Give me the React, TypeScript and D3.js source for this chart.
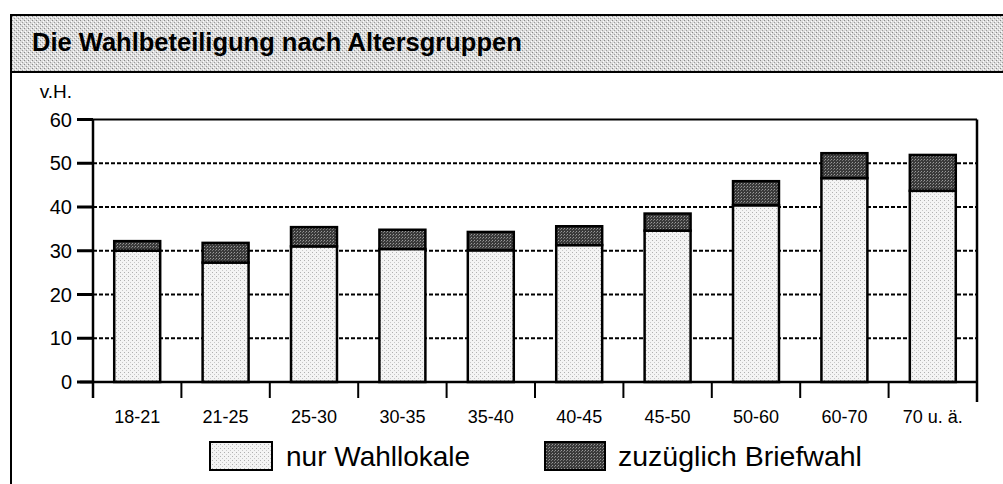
import { scaleBand, scaleLinear } from "d3";

const categories = ["18-21", "21-25", "25-30", "30-35", "35-40", "40-45", "45-50", "50-60", "60-70", "70 u. ä."];
// nur Wahllokale
const wahllokale = [30, 27.3, 31, 30.4, 30.1, 31.3, 34.6, 40.4, 46.6, 43.7];
// zuzüglich Briefwahl (Aufschlag)
const briefwahl = [2.2, 4.5, 4.4, 4.4, 4.2, 4.3, 3.9, 5.5, 5.7, 8.2];
const yTicks = [0, 10, 20, 30, 40, 50, 60];

const FONT = "'Liberation Sans', Arial, Helvetica, sans-serif";

export default function App() {
  const width = 1003;
  const height = 484;
  const left = 93;
  const right = 977;
  const top = 119.5;
  const bottom = 382;

  const x = scaleBand<string>().domain(categories).range([left, right]).padding(0);
  const y = scaleLinear().domain([0, 60]).range([bottom, top]);
  const barW = x.bandwidth() * 0.52;
  const bounds = [...categories.map((c) => x(c)!), right];

  return (
    <svg width={width} height={height} style={{ position: "absolute", left: 0, top: 0, background: "#fff" }}>
      <defs>
        <pattern id="band" width="4" height="4" patternUnits="userSpaceOnUse">
          <rect width="4" height="4" fill="#dcdcdc" />
          <rect x="0" y="0" width="1" height="1" fill="#888" />
          <rect x="2" y="2" width="1" height="1" fill="#9c9c9c" />
          <rect x="3" y="1" width="1" height="1" fill="#fff" />
          <rect x="1" y="3" width="1" height="1" fill="#fff" />
        </pattern>
        <pattern id="light" width="4" height="4" patternUnits="userSpaceOnUse">
          <rect width="4" height="4" fill="#f4f4f4" />
          <rect x="0" y="0" width="1" height="1" fill="#b0b0b0" />
          <rect x="2" y="2" width="1" height="1" fill="#c8c8c8" />
        </pattern>
        <pattern id="dark" width="3" height="3" patternUnits="userSpaceOnUse">
          <rect width="3" height="3" fill="#3a3a3a" />
          <rect x="0" y="0" width="1" height="1" fill="#9a9a9a" />
          <rect x="2" y="1" width="1" height="1" fill="#777" />
        </pattern>
      </defs>

      {/* Rahmen + Titelband */}
      <rect x={11} y={15} width={width - 11} height={57} fill="url(#band)" />
      <line x1={11} x2={width} y1={15} y2={15} stroke="#000" strokeWidth={2} />
      <line x1={11} x2={width} y1={72} y2={72} stroke="#000" strokeWidth={2} />
      <line x1={11} x2={11} y1={14} y2={height} stroke="#000" strokeWidth={2} />
      <text x={32} y={51} fontFamily={FONT} fontWeight="bold" fontSize={25.5} fill="#000">
        Die Wahlbeteiligung nach Altersgruppen
      </text>

      <text x={72} y={98} textAnchor="end" fontFamily={FONT} fontSize={19}>v.H.</text>

      {/* Gitterlinien */}
      {yTicks.filter((t) => t > 0 && t < 60).map((t) => (
        <line key={t} x1={left} x2={right} y1={y(t)} y2={y(t)} stroke="#000" strokeWidth={2} strokeDasharray="4,2" />
      ))}

      {/* Balken */}
      {categories.map((c, i) => {
        const cx = x(c)! + x.bandwidth() / 2;
        const y1 = y(wahllokale[i]);
        const y2 = y(wahllokale[i] + briefwahl[i]);
        return (
          <g key={c}>
            <rect x={cx - barW / 2} y={y1} width={barW} height={bottom - y1} fill="url(#light)" stroke="#000" strokeWidth={2.5} />
            <rect x={cx - barW / 2} y={y2} width={barW} height={y1 - y2} fill="url(#dark)" stroke="#000" strokeWidth={2.5} />
          </g>
        );
      })}

      {/* Achsen */}
      <line x1={left} x2={right} y1={top} y2={top} stroke="#000" strokeWidth={2} />
      <line x1={right} x2={right} y1={top} y2={402} stroke="#000" strokeWidth={2.5} />
      <line x1={left} x2={left} y1={top} y2={398} stroke="#000" strokeWidth={2.5} />
      <line x1={80} x2={right} y1={bottom} y2={bottom} stroke="#000" strokeWidth={2.5} />
      {yTicks.map((t) => (
        <g key={t}>
          <line x1={77} x2={left} y1={y(t)} y2={y(t)} stroke="#000" strokeWidth={3} />
          <text x={72} y={y(t)} dy="0.36em" textAnchor="end" fontFamily={FONT} fontSize={20}>
            {t}
          </text>
        </g>
      ))}
      {bounds.slice(1, -1).map((b, i) => (
        <line key={i} x1={b} x2={b} y1={bottom} y2={398} stroke="#000" strokeWidth={2} />
      ))}
      {categories.map((c) => (
        <text key={c} x={x(c)! + x.bandwidth() / 2} y={423} textAnchor="middle" fontFamily={FONT} fontSize={18}>
          {c}
        </text>
      ))}

      {/* Legende */}
      <rect x={210} y={442} width={62} height={28} fill="url(#light)" stroke="#000" strokeWidth={2} />
      <text x={286} y={466} fontFamily={FONT} fontSize={28}>nur Wahllokale</text>
      <rect x={545} y={442} width={60} height={28} fill="url(#dark)" stroke="#000" strokeWidth={2} />
      <text x={618} y={466} fontFamily={FONT} fontSize={28.5}>zuzüglich Briefwahl</text>
    </svg>
  );
}
